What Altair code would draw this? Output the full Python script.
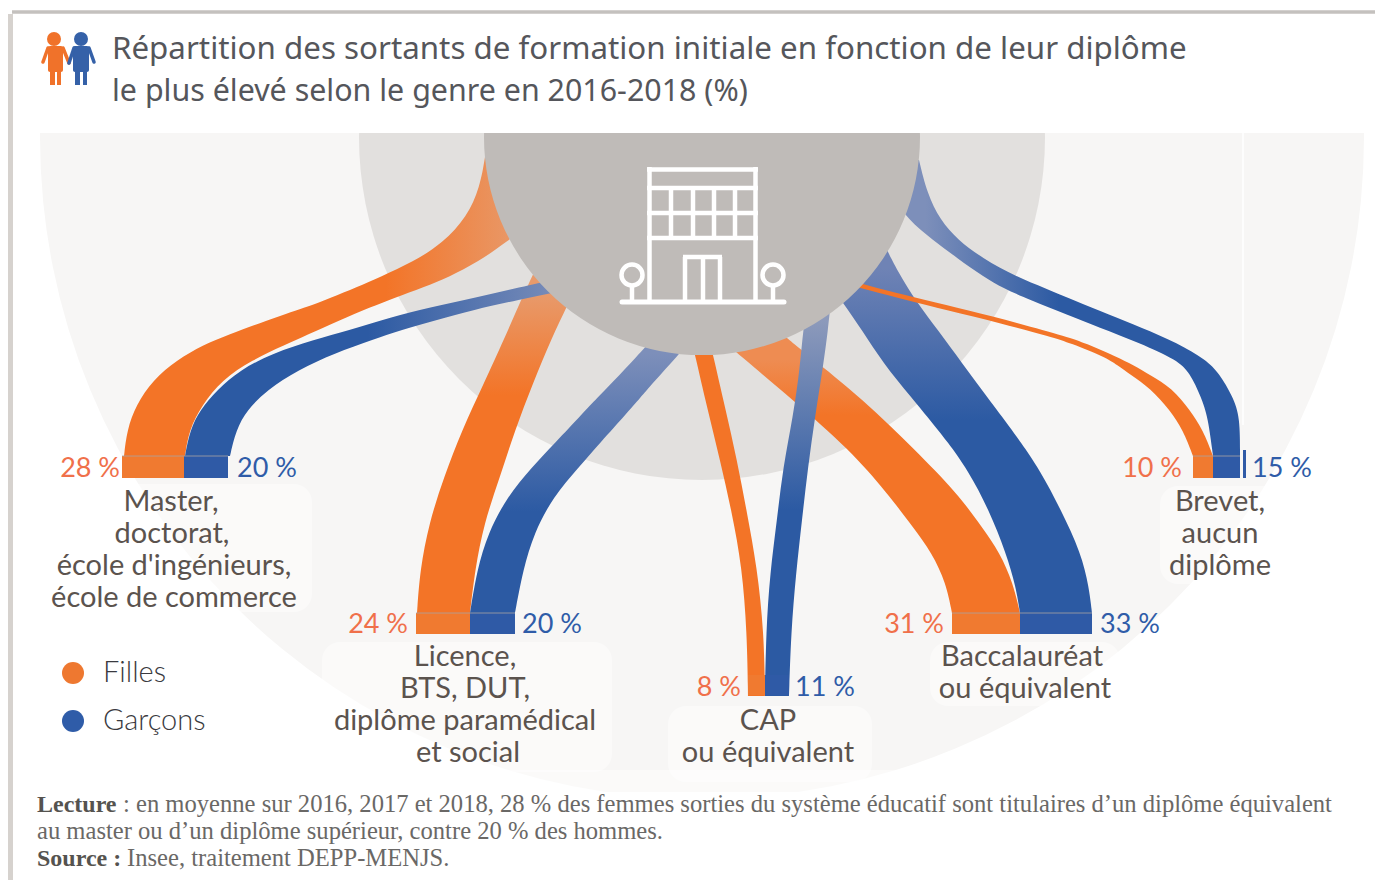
import altair as alt
import pandas as pd

W, H = 1367, 872
sx = alt.Scale(domain=[8, 8 + W], range=[0, W], nice=False, zero=False)
sy = alt.Scale(domain=[8 + H, 8], range=[H, 0], nice=False, zero=False)
X = lambda f: alt.X(f, type="quantitative", scale=sx, axis=None)
Y = lambda f: alt.Y(f, type="quantitative", scale=sy, axis=None)

ORANGE = "#F37427"
BLUE = "#2C5AA3"
OF = "#E89A6B"
BF = "#7D8FBA"

# Band outlines: y level, left edge, right edge
master_f_y = [157,187,217,243,262,277,287,298,307,321,335,345,360,380,405,430,456,456]
master_f_l = [485,480,467,443,413,380,357,330,307,265,228,203,177,153,136,127,124,124]
master_f_r = [575,560,540,505,478,449,424,394,371,338,307,285,252,222,202,189,185,185]

master_g_y = [280,290,300,310,320,330,340,353,370,390,410,430,456,456]
master_g_l = [552,508,465,418,382,350,313,273,240,217,200,190,185,185]
master_g_r = [620,566,518,473,437,401,372,335,298,267,247,236,230,230]

licence_f_y = [250,270,307,337,383,430,477,523,570,613,613]
licence_f_l = [545,535,518,505,484,462,444,429,420,417,417]
licence_f_r = [595,583,567,552,533,515,500,484,475,470,470]

licence_g_y = [340,355,383,398,413,443,467,497,533,570,613,613]
licence_g_l = [652,638,612,597,583,555,532,507,488,477,470,470]
licence_g_r = [692,678,653,640,627,600,579,553,534,523,515,515]

cap_f_y = [333,355,407,460,513,567,633,696,696]
cap_f_l = [690,695,707,720,732,742,747,748,748]
cap_f_r = [708,713,725,737,747,757,764,765,765]

cap_g_y = [300,330,367,417,467,520,573,633,696,696]
cap_g_l = [808,803,800,793,783,777,770,766,765,765]
cap_g_r = [831,828,823,815,808,802,796,791,789,789]

bac_f_y = [338,353,400,450,493,527,553,583,613,613]
bac_f_l = [720,737,793,850,887,913,932,946,952,952]
bac_f_r = [787,805,864,915,957,982,1000,1013,1020,1020]

bac_g_y = [250,270,303,330,363,397,430,440,470,510,553,587,613,613]
bac_g_l = [810,820,843,862,883,911,938,946,968,989,1006,1016,1020,1020]
bac_g_r = [887,897,917,938,962,987,1012,1019,1040,1061,1081,1089,1092,1092]

brevet_f_y = [275,283,290,300,310,323,337,343,357,365,375,388,410,430,456,456]
brevet_f_l = [810,842,868,906,946,1000,1052,1070,1105,1117,1131,1150,1170,1183,1193,1193]
brevet_f_r = [830,858,885,925,967,1018,1068,1085,1117,1133,1150,1172,1190,1203,1213,1213]

brevet_g_y = [160,193,220,240,258,277,288,300,315,327,343,360,373,397,417,456,456]
brevet_g_l = [870,890,908,933,957,984,1003,1030,1068,1098,1140,1177,1190,1201,1208,1213,1213]
brevet_g_r = [919,927,940,958,982,1017,1045,1073,1110,1140,1178,1206,1219,1233,1240,1240,1240]


def grad(c0, c1, a, b, x1=0, y1=0, x2=0, y2=1):
    return alt.LinearGradient(
        gradient="linear", x1=x1, y1=y1, x2=x2, y2=y2,
        stops=[alt.GradientStop(offset=0, color=c0),
               alt.GradientStop(offset=a, color=c0),
               alt.GradientStop(offset=b, color=c1),
               alt.GradientStop(offset=1, color=c1)],
    )


def band(ys, ls, rs, fill):
    df = pd.DataFrame({"y": ys, "l": ls, "r": rs})
    return alt.Chart(df).mark_area(
        orient="horizontal", interpolate="basis", color=fill, strokeWidth=0
    ).encode(x=X("l"), x2="r:Q", y=Y("y"))


def circles(xs, ys, diam, **kw):
    df = pd.DataFrame({"x": xs, "y": ys})
    return alt.Chart(df).mark_point(size=diam ** 2, shape="circle", **kw).encode(x=X("x"), y=Y("y"))


def rects(xs, x2s, ys, y2s, color, **kw):
    df = pd.DataFrame({"x": xs, "x2": x2s, "y": ys, "y2": y2s})
    return alt.Chart(df).mark_rect(color=color, **kw).encode(x=X("x"), x2="x2:Q", y=Y("y"), y2="y2:Q")


def rules(xs, x2s, ys, y2s, color, w, cap="butt", opacity=1):
    df = pd.DataFrame({"x": xs, "x2": x2s, "y": ys, "y2": y2s})
    return alt.Chart(df).mark_rule(color=color, strokeWidth=w, strokeCap=cap, opacity=opacity).encode(
        x=X("x"), x2="x2:Q", y=Y("y"), y2="y2:Q")


def texts(rows, font, size, color, align="left", weight=400):
    df = pd.DataFrame(rows, columns=["t", "x", "y"])
    return alt.Chart(df).mark_text(
        font=font, fontSize=size, color=color, align=align, baseline="middle", fontWeight=weight
    ).encode(x=X("x"), y=Y("y"), text="t:N")


layers = [
    circles([702], [137], 1324, filled=True, color="#F7F6F5", opacity=1),
    # faint white glow behind the text blocks
    rects([36, 322, 668, 930, 1160, 40, 8], [312, 612, 872, 1120, 1285, 232, 1375],
          [484, 642, 706, 642, 486, 650, 770], [612, 772, 782, 706, 584, 742, 792],
          "#FFFFFF", opacity=0.45, cornerRadius=18),
    circles([702], [137], 686, filled=True, color="#E2E0DE", opacity=1),
    rules([1243], [1243], [133], [425], "#FFFFFF", 1.5),
    band(master_f_y, master_f_l, master_f_r, grad(OF, ORANGE, 0.12, 0.42, x1=1, y1=0, x2=0, y2=0)),
    band(licence_f_y, licence_f_l, licence_f_r, grad(OF, ORANGE, 0.12, 0.40)),
    band(master_g_y, master_g_l, master_g_r, grad(BF, BLUE, 0.12, 0.58, x1=1, y1=0, x2=0, y2=0)),
    band(licence_g_y, licence_g_l, licence_g_r, grad(BF, BLUE, 0.05, 0.63)),
    band(cap_f_y, cap_f_l, cap_f_r, ORANGE),
    band(bac_f_y, bac_f_l, bac_f_r, grad("#EE8C52", ORANGE, 0.08, 0.28)),
    band(cap_g_y, cap_g_l, cap_g_r, grad("#8D9ABB", BLUE, 0.05, 0.53)),
    band(bac_g_y, bac_g_l, bac_g_r, grad("#6F83B5", BLUE, 0.05, 0.47)),
    band(brevet_g_y, brevet_g_l, brevet_g_r, grad(BF, BLUE, 0.15, 0.51, x1=0, y1=0, x2=1, y2=0)),
    band(brevet_f_y, brevet_f_l, brevet_f_r, ORANGE),
    circles([702], [137], 436, filled=True, color="#BFBBB8", opacity=1),
    rects([8], [1375], [8], [133], "#FFFFFF"),
    rects([8], [1375], [792], [880], "#FFFFFF"),
    rects([8], [13], [14], [880], "#D6D2CE"),
    rules([12], [1375], [12], [12], "#C4C1BE", 3.5),
    rules([647, 647, 647, 755.5, 649.5], [758, 758, 758, 755.5, 649.5], [169.5, 188, 238, 167, 167], [169.5, 188, 238, 302, 302], "#FFFFFF", 4.5),
    rules([647, 671, 693, 714, 735], [758, 671, 693, 714, 735], [213, 188, 188, 188, 188], [213, 238, 238, 238, 238], "#FFFFFF", 4.5),
    rules([685, 720, 703, 683], [685, 720, 703, 722], [257, 257, 257, 257], [302, 302, 302, 257], "#FFFFFF", 4.5),
    rules([622], [784], [302], [302], "#FFFFFF", 5, "round"),
    rules([632, 773], [632, 773], [286, 286], [302, 302], "#FFFFFF", 4.5),
    circles([632, 773], [275, 275], 21, filled=False, color="#FFFFFF", strokeWidth=4.5, opacity=1),
    circles([54], [39], 14, filled=True, color="#F0722A", opacity=1),
    rects([48], [63], [46], [72], "#F0722A", cornerRadius=2),
    rects([50, 57], [55, 61], [70, 70], [85, 85], "#F0722A"),
    rules([48, 63], [43, 69], [48, 48], [62, 63], "#F0722A", 3.5, "round"),
    circles([81], [39], 14, filled=True, color="#3561A8", opacity=1),
    rects([73], [89], [46], [72], "#3561A8", cornerRadius=2),
    rules([74, 89], [69, 94], [48, 48], [63, 62], "#3561A8", 3.5, "round"),
    rects([75, 83], [80, 87], [70, 70], [85, 85], "#3561A8"),
    rects([122, 416, 748, 952, 1193], [184, 470, 765, 1020, 1213], [456, 613, 675, 613, 456], [478, 634, 695, 634, 478], "#F07A30"),
    rects([184, 470, 765, 1020, 1213], [228, 515, 789, 1092, 1240], [456, 613, 675, 613, 456], [478, 634, 695, 634, 478], "#2F5AA6"),
    rects([1243], [1246], [450], [478], "#2F5AA6"),
    rules([122, 416, 952, 1193], [228, 515, 1092, 1240], [456, 613, 613, 456], [456, 613, 613, 456], "#A9A3A3", 1, opacity=0.8),
    circles([73], [673], 22, filled=True, color="#EE7830", opacity=1),
    circles([73], [721], 22, filled=True, color="#2F5CA8", opacity=1),
    texts([["Filles", 103, 673], ["Garçons", 103, 721]], "Lato", 29, "#3A3A40", weight=300),
    texts([["28 %", 120, 469], ["24 %", 408, 625], ["8 %", 741, 688], ["31 %", 944, 625], ["10 %", 1182, 469]],
          "Lato", 27, "#F0704A", "right", 400),
    texts([["20 %", 237, 469], ["20 %", 522, 625], ["11 %", 795, 688], ["33 %", 1100, 625], ["15 %", 1252, 469]],
          "Lato", 27, "#2F5CA8", "left", 400),
    texts([["Master,", 171, 502], ["doctorat,", 172, 534], ["école d'ingénieurs,", 174, 566], ["école de commerce", 174, 598],
           ["Licence,", 465, 657], ["BTS, DUT,", 465, 689], ["diplôme paramédical", 465, 721], ["et social", 468, 753],
           ["CAP", 768, 721], ["ou équivalent", 768, 753],
           ["Baccalauréat", 1022, 657], ["ou équivalent", 1025, 689],
           ["Brevet,", 1220, 502], ["aucun", 1220, 534], ["diplôme", 1220, 566]],
          "Lato", 29, "#5B534E", "center", 400),
    texts([["Répartition des sortants de formation initiale en fonction de leur diplôme", 112, 50]],
          "Noto Sans", 31.3, "#55565B"),
    texts([["le plus élevé selon le genre en 2016-2018 (%)", 112, 92]],
          "Noto Sans", 30.4, "#55565B"),
    texts([["Lecture", 37, 805], ["Source :", 37, 859]], "Liberation Serif", 24, "#55534F", weight=700),
    texts([[": en moyenne sur 2016, 2017 et 2018, 28 % des femmes sorties du système éducatif sont titulaires d’un diplôme équivalent", 123, 805],
           ["au master ou d’un diplôme supérieur, contre 20 % des hommes.", 37, 832],
           ["Insee, traitement DEPP-MENJS.", 127, 859]], "Liberation Serif", 24.6, "#6A6866"),
]

chart = alt.layer(*layers).properties(
    width=W, height=H, padding=0, background="#FFFFFF",
    autosize=alt.AutoSizeParams(type="none"),
).configure_view(stroke=None)

chart.save("out.html", embed_options={"renderer": "svg", "actions": False})
